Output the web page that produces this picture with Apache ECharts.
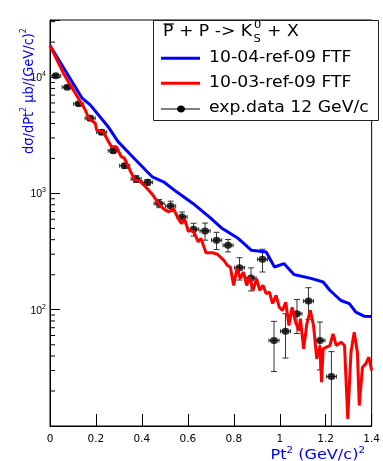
<!DOCTYPE html>
<html><head><meta charset="utf-8">
<script src="https://cdn.jsdelivr.net/npm/echarts@6.0.0/dist/echarts.min.js"></script>
<style>html,body{margin:0;padding:0;background:#fff}#c{width:383px;height:461px}</style>
</head><body><div id="c"></div>
<script>
// ---- data ----
const expX = [0.025,0.075,0.125,0.175,0.225,0.275,0.325,0.375,0.425,0.475,0.525,0.575,0.625,0.675,0.725,0.775,0.825,0.875,0.925,0.975,1.025,1.075,1.125,1.175,1.225];
const expY = [10260,8200,5890,4430,3360,2330,1730,1330,1245,820,778,628,492,476,396,358,230,187,271,54.4,65.4,92.4,118.6,54.4,26.6];
const expErrY = [300,250,200,200,150,100,80,90,70,66,80,64,62,80,67,44,50,42,60,25,27,30,36,24,17];
const expErrX = 0.022;

const blueX = [0,0.14,0.175,0.253,0.296,0.352,0.423,0.445,0.494,0.551,0.622,0.693,0.75,0.82,0.877,0.941,0.977,1.019,1.062,1.14,1.189,1.218,1.266,1.303,1.331,1.367,1.40];
const blueY = [18700,6590,5770,3750,2790,2140,1535,1390,1259,1032,820,629,499,409,324,314,233,249,201,185,173,147,120,113,95.3,88,87.5];

const redX = [0,0.062,0.097,0.154,0.168,0.197,0.203,0.232,0.267,0.289,0.310,0.324,0.352,0.370,0.391,0.416,0.445,0.474,0.496,0.517,0.537,0.558,0.572,0.586,0.602,0.615,0.629,0.645,0.657,0.679,0.707,0.729,0.757,0.771,0.785,0.799,0.814,0.828,0.842,0.856,0.870,0.884,0.899,0.913,0.927,0.941,0.955,0.969,0.984,0.998,1.012,1.026,1.040,1.054,1.069,1.083,1.090,1.104,1.118,1.133,1.147,1.161,1.175,1.182,1.189,1.203,1.218,1.232,1.246,1.267,1.282,1.296,1.310,1.324,1.338,1.346,1.360,1.374,1.388,1.40];
const redY = [18700,10470,8040,5225,4430,4010,3510,3380,2520,2520,2070,2015,1526,1302,1277,1140,986,809,732,694,742,609,551,600,473,483,455,383,409,309,309,300,266,241,233,162,226,185,211,162,191,147,185,147,162,137,142,113,133,105,98.6,116,73.2,105,78.2,66.3,83.6,46.1,75.7,98.6,73.2,37.8,49.2,23.8,46.1,47.6,49.2,62.1,49.2,52.6,49.2,11.5,43.1,64.1,43.1,15.0,32.0,34.2,39.0,30.0];

const yMinorTicks = [20,30,40,50,60,70,80,90,200,300,400,500,600,700,800,900,2000,3000,4000,5000,6000,7000,8000,9000,20000,30000];
const xMin = 0, xMax = 1.4, xInterval = 0.2;
const yMin = 10, yMax = 31000;

const seriesNames = ['10-04-ref-09 FTF','10-03-ref-09 FTF','exp.data 12 GeV/c'];
// ------------------------------------

const chart = echarts.init(document.getElementById('c'));
const FONT = 'DejaVu Sans';
const BLUE = '#0000ff';

const errData = expX.map((x,i)=>[x, expY[i], expErrY[i], expErrX]);

const option = {
  animation: false,
  backgroundColor: '#fff',
  grid: {left: 50, right: 4, top: 20, bottom: 35, show: true, borderColor: '#000', borderWidth: 1, backgroundColor: 'transparent'},
  xAxis: {
    type: 'value', min: xMin, max: xMax, interval: xInterval,
    axisLine: {lineStyle: {color: '#000', width: 1}},
    axisTick: {inside: true, length: 12, lineStyle: {color: '#000'}},
    splitLine: {show: false},
    axisLabel: {color: '#000', fontFamily: FONT, fontSize: 10.5, margin: 8,
      formatter: v => String(+(+v).toFixed(1))}
  },
  yAxis: {
    type: 'log', logBase: 10, min: yMin, max: yMax,
    axisLine: {lineStyle: {color: '#000', width: 1}},
    axisTick: {inside: true, length: 10, lineStyle: {color: '#000'}},
    splitLine: {show: false},
    axisLabel: {
      margin: 4,
      formatter: v => {
        const l = Math.log10(v); const e = Math.round(l);
        if (Math.abs(l - e) > 1e-6 || e < 2) return '';
        return '{b|10}{s|' + e + '}';
      },
      rich: {
        b: {fontFamily: 'Liberation Sans', fontSize: 10.5, color: '#000', lineHeight: 13, verticalAlign: 'bottom'},
        s: {fontFamily: 'Liberation Sans', fontSize: 7, color: '#000', lineHeight: 13, verticalAlign: 'top'}
      }
    }
  },
  series: [
    {
      type: 'custom', name: 'minorTicks', silent: true, z: 1,
      data: yMinorTicks.map(v => [xMin, v]),
      encode: {x: 0, y: 1},
      renderItem: (params, api) => {
        const p = api.coord([api.value(0), api.value(1)]);
        return {type: 'line', shape: {x1: p[0], y1: p[1], x2: p[0] + 5, y2: p[1]}, style: {stroke: '#000', lineWidth: 1}};
      }
    },
    {
      type: 'custom', name: seriesNames[2] + ' errors', silent: true, z: 2, clip: true,
      data: errData,
      encode: {x: 0, y: 1},
      renderItem: (params, api) => {
        const x = api.value(0), y = api.value(1), ey = api.value(2), ex = api.value(3);
        const c = api.coord([x, y]);
        const hi = api.coord([x, y + ey]);
        const bottom = api.coord([x, yMin])[1];
        const lowVal = y - ey;
        const loIn = lowVal > yMin;
        const lo = loIn ? api.coord([x, lowVal]) : [c[0], bottom];
        const l = api.coord([x - ex, y]), r = api.coord([x + ex, y]);
        const st = {stroke: '#333', lineWidth: 1};
        const ch = [
          {type: 'line', shape: {x1: c[0], y1: hi[1], x2: c[0], y2: lo[1]}, style: st},
          {type: 'line', shape: {x1: c[0] - 3, y1: hi[1], x2: c[0] + 3, y2: hi[1]}, style: st},
          {type: 'line', shape: {x1: l[0], y1: c[1], x2: r[0], y2: c[1]}, style: st},
          {type: 'line', shape: {x1: l[0], y1: c[1] - 2, x2: l[0], y2: c[1] + 2}, style: st},
          {type: 'line', shape: {x1: r[0], y1: c[1] - 2, x2: r[0], y2: c[1] + 2}, style: st}
        ];
        if (loIn) ch.push({type: 'line', shape: {x1: c[0] - 3, y1: lo[1], x2: c[0] + 3, y2: lo[1]}, style: st});
        return {type: 'group', children: ch};
      }
    },
    {
      type: 'scatter', name: seriesNames[2], z: 3,
      data: expX.map((x,i)=>[x, expY[i]]),
      symbol: 'circle', symbolSize: [8, 7],
      itemStyle: {color: '#000'}
    },
    {
      type: 'line', name: seriesNames[0], z: 4,
      data: blueX.map((x,i)=>[x, blueY[i]]),
      showSymbol: false, symbol: 'none',
      lineStyle: {color: BLUE, width: 3}
    },
    {
      type: 'line', name: seriesNames[1], z: 5,
      data: redX.map((x,i)=>[x, redY[i]]),
      showSymbol: false, symbol: 'none',
      lineStyle: {color: '#ff0000', width: 3}
    }
  ],
  graphic: [
    // legend box
    {type: 'rect', z: 100, shape: {x: 153.5, y: 20.5, width: 225, height: 100}, style: {fill: '#fff', stroke: '#222', lineWidth: 1}},
    // legend title
    {type: 'text', z: 101, x: 163, y: 32, scaleX: 1.15, style: {x: 0, y: 0, text: 'P + P -> K', font: '15px "DejaVu Sans"', fill: '#000', align: 'left', verticalAlign: 'middle'}},
    {type: 'line', z: 101, shape: {x1: 163.5, y1: 24, x2: 174, y2: 24}, style: {stroke: '#000', lineWidth: 1.2}},
    {type: 'text', z: 101, x: 254, y: 25.5, scaleX: 1.15, style: {x: 0, y: 0, text: '0', font: '10px "DejaVu Sans"', fill: '#000', align: 'left', verticalAlign: 'middle'}},
    {type: 'text', z: 101, x: 253.5, y: 39.5, scaleX: 1.15, style: {x: 0, y: 0, text: 'S', font: '10px "DejaVu Sans"', fill: '#000', align: 'left', verticalAlign: 'middle'}},
    {type: 'text', z: 101, x: 267, y: 32, scaleX: 1.15, style: {x: 0, y: 0, text: '+ X', font: '15px "DejaVu Sans"', fill: '#000', align: 'left', verticalAlign: 'middle'}},
    // entries
    {type: 'line', z: 101, shape: {x1: 161, y1: 58.3, x2: 200, y2: 58.3}, style: {stroke: BLUE, lineWidth: 3}},
    {type: 'text', z: 101, x: 209, y: 58, scaleX: 1.15, style: {x: 0, y: 0, text: seriesNames[0], font: '15px "DejaVu Sans"', fill: '#000', align: 'left', verticalAlign: 'middle'}},
    {type: 'line', z: 101, shape: {x1: 161, y1: 83.3, x2: 200, y2: 83.3}, style: {stroke: '#ff0000', lineWidth: 3}},
    {type: 'text', z: 101, x: 209, y: 83, scaleX: 1.15, style: {x: 0, y: 0, text: seriesNames[1], font: '15px "DejaVu Sans"', fill: '#000', align: 'left', verticalAlign: 'middle'}},
    {type: 'line', z: 101, shape: {x1: 161, y1: 109, x2: 200, y2: 109}, style: {stroke: '#000', lineWidth: 1}},
    {type: 'ellipse', z: 102, shape: {cx: 181, cy: 109, rx: 4, ry: 3.5}, style: {fill: '#000'}},
    {type: 'text', z: 101, x: 209, y: 108, scaleX: 1.15, style: {x: 0, y: 0, text: seriesNames[2], font: '15px "DejaVu Sans"', fill: '#000', align: 'left', verticalAlign: 'middle'}},
    // axis titles
    {type: 'text', z: 50, x: 365, y: 454, scaleX: 1.15, style: {x: 0, y: 0, text: '{a|Pt}{s|2}{a| (GeV/c)}{s|2}', align: 'right', verticalAlign: 'middle',
      rich: {a: {font: '14px "DejaVu Sans"', fill: BLUE, color: BLUE, lineHeight: 16, verticalAlign: 'bottom'}, s: {font: '9px "DejaVu Sans"', fill: BLUE, color: BLUE, lineHeight: 16, verticalAlign: 'top'}}}},
    {type: 'text', z: 50, x: 28, y: 91, rotation: Math.PI / 2, scaleY: 1.1, style: {x: 0, y: 0, text: '{a|dσ/dPt}{s|2}{a| μb/(GeV/c)}{s|2}', align: 'center', verticalAlign: 'middle',
      rich: {a: {font: '13px "DejaVu Sans"', fill: BLUE, color: BLUE, lineHeight: 16, verticalAlign: 'bottom'}, s: {font: '8px "DejaVu Sans"', fill: BLUE, color: BLUE, lineHeight: 16, verticalAlign: 'top'}}}}
  ]
};
chart.setOption(option);
</script>
</body></html>
